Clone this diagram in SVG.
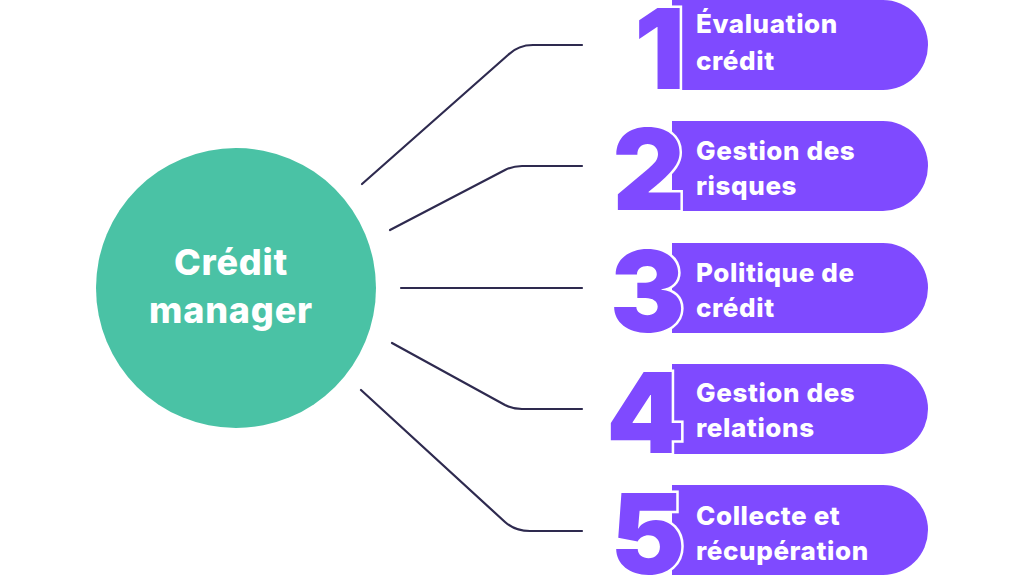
<svg xmlns="http://www.w3.org/2000/svg" width="1024" height="576" viewBox="0 0 1024 576">
<style>
.pill{fill:#7f4aff}
.num{font-family:Inter,"Open Sans",sans-serif;font-weight:900;font-size:112px;fill:#7f4aff;stroke:#ffffff;stroke-width:5;paint-order:stroke;text-anchor:end}
.lbl{font-family:Inter,"Open Sans",sans-serif;font-weight:800;font-size:26px;letter-spacing:0.6px;fill:#ffffff}
.ctr{font-family:Inter,"Open Sans",sans-serif;font-weight:800;font-size:36px;letter-spacing:0.8px;fill:#ffffff;text-anchor:middle}
.conn{fill:none;stroke:#2e2a4f;stroke-width:2.2;stroke-linecap:round;stroke-linejoin:round}
</style>
<rect width="1024" height="576" fill="#ffffff"/>
<g id="connectors">
<path class="conn" d="M362,184 L508,55 Q518,45 533,45 L582,45"/>
<path class="conn" d="M390,230 L505,170 Q513,166 522,166 L582,166"/>
<path class="conn" d="M401,288 L582,288"/>
<path class="conn" d="M392,343 L505,405 Q513,409 522,409 L582,409"/>
<path class="conn" d="M361,390 L505,522 Q515,531 530,531 L582,531"/>
</g>
<g id="center">
<circle cx="236" cy="288" r="140" fill="#4ac2a5"/>
<text class="ctr" x="231" y="275">Crédit</text>
<text class="ctr" x="231" y="323">manager</text>
</g>
<g id="item1">
<path class="pill" d="M672,0 L883,0 A45,45 0 0 1 883,90 L672,90 Z"/>
<text class="num" x="685" y="89">1</text>
<text class="lbl" x="696" y="33">Évaluation</text>
<text class="lbl" x="696" y="70">crédit</text>
</g>
<g id="item2">
<path class="pill" d="M672,121 L883,121 A45,45 0 0 1 883,211 L672,211 Z"/>
<text class="num" x="685" y="210">2</text>
<text class="lbl" x="696" y="160">Gestion des</text>
<text class="lbl" x="696" y="195">risques</text>
</g>
<g id="item3">
<path class="pill" d="M672,243 L883,243 A45,45 0 0 1 883,333 L672,333 Z"/>
<text class="num" x="685" y="332">3</text>
<text class="lbl" x="696" y="282">Politique de</text>
<text class="lbl" x="696" y="317">crédit</text>
</g>
<g id="item4">
<path class="pill" d="M672,364 L883,364 A45,45 0 0 1 883,454 L672,454 Z"/>
<text class="num" x="685" y="453">4</text>
<text class="lbl" x="696" y="402">Gestion des</text>
<text class="lbl" x="696" y="437">relations</text>
</g>
<g id="item5">
<path class="pill" d="M672,485 L883,485 A45,45 0 0 1 883,575 L672,575 Z"/>
<text class="num" x="685" y="574">5</text>
<text class="lbl" x="696" y="525">Collecte et</text>
<text class="lbl" x="696" y="560">récupération</text>
</g>
</svg>
